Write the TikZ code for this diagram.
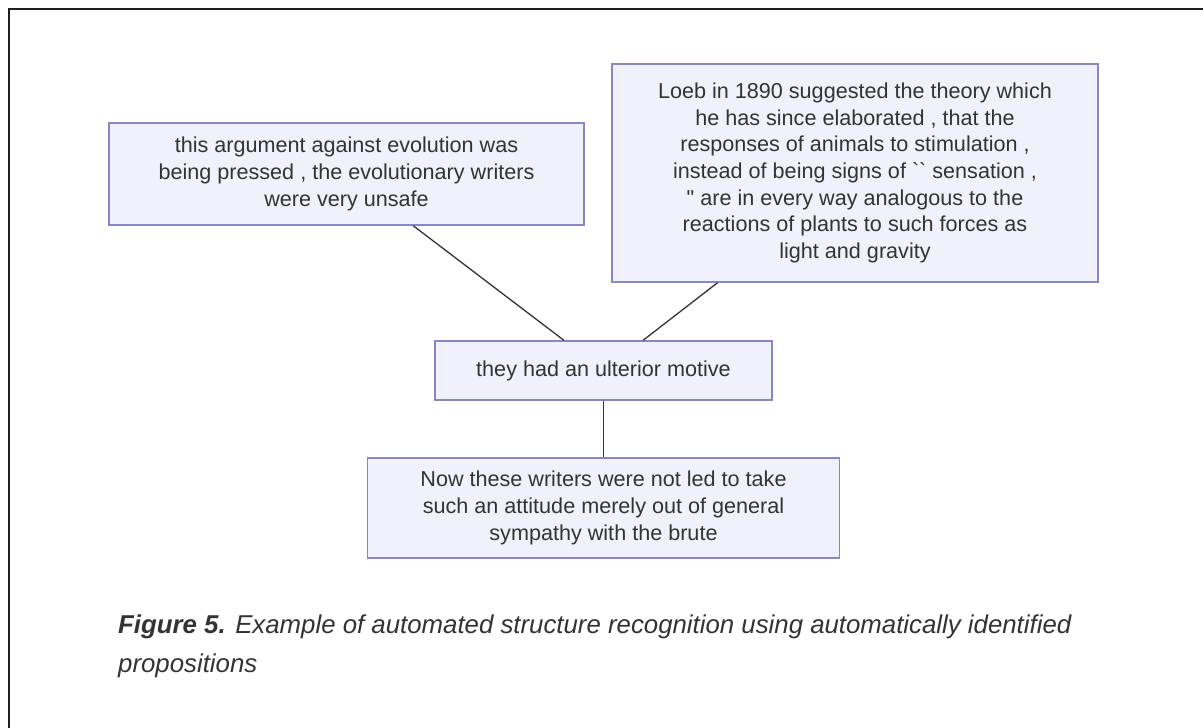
\documentclass[tikz,border=0pt]{standalone}
\usepackage{fontspec}
\setmainfont{Liberation Sans}
\newfontfamily\rawfont{Liberation Sans}[Ligatures=ResetAll]
\usetikzlibrary{calc}
\definecolor{boxfill}{HTML}{EFF2FB}
\definecolor{boxline}{HTML}{8A86C4}
\definecolor{txt}{HTML}{333333}
\definecolor{edge}{HTML}{333333}
\definecolor{frame}{HTML}{1E1E1E}
\tikzset{
  prop/.style={draw=boxline, fill=boxfill, line width=1.4pt, inner sep=0pt,
    align=center, text=txt, font=\fontsize{21.6}{26.7}\selectfont},
  link/.style={draw=edge, line width=1.3pt},
  captext/.style={anchor=base west, inner sep=0pt, text=txt, font=\fontsize{25.8}{30}\selectfont\itshape}
}
\begin{document}
\begin{tikzpicture}[x=1pt,y=-1pt]
\useasboundingbox (0,0) rectangle (1203,728);
\coordinate (fl) at (9,728);
\coordinate (ft) at (9,9);
\coordinate (fr) at (1203,9);
\draw[frame, line width=2.2pt] (fl) -- (ft) -- (fr);

\node[prop, minimum width=475pt, minimum height=102pt] (b1) at (346.5,174)
  {this argument against evolution was\\being pressed , the evolutionary writers\\were very unsafe};
\node[prop, minimum width=486pt, minimum height=218pt] (b2) at (855,173)
  {Loeb in 1890 suggested the theory which\\he has since elaborated , that the\\responses of animals to stimulation ,\\instead of being signs of {\rawfont ``} sensation ,\\{\rawfont "} are in every way analogous to the\\reactions of plants to such forces as\\light and gravity};
\node[prop, minimum width=337pt, minimum height=59pt] (b3) at (603.5,370.5)
  {they had an ulterior motive};
\node[prop, minimum width=472pt, minimum height=100pt] (b4) at (603.5,508)
  {Now these writers were not led to take\\such an attitude merely out of general\\sympathy with the brute};

\draw[link] ($(b1.south west)!0.64!(b1.south east)$) -- ($(b3.north west)!0.383!(b3.north east)$);
\draw[link] ($(b2.south west)!0.218!(b2.south east)$) -- ($(b3.north west)!0.617!(b3.north east)$);
\draw[link] (b3.south) -- (b4.north);

\node[captext] (c1) at (118,633) {\textbf{Figure 5.} Example of automated structure recognition using automatically identified};
\node[captext] (c2) at (118,672) {propositions};
\end{tikzpicture}
\end{document}
